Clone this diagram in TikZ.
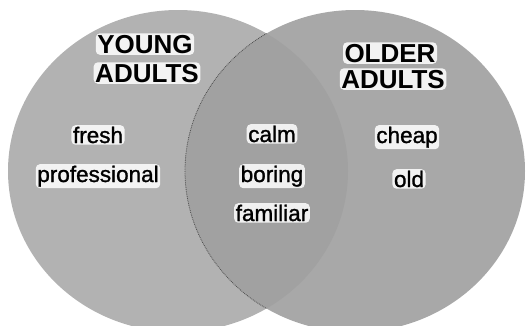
\documentclass[tikz,border=0pt]{standalone}
\usepackage{fontspec}
\setmainfont{Liberation Sans}
\newfontfamily\wordface{Liberation Sans}[FakeBold=1.2]
\usetikzlibrary{shapes.geometric}
\newcommand{\hdfont}{\fontsize{26pt}{26pt}\selectfont\bfseries}
\newcommand{\wdfont}{\wordface\fontsize{22.5pt}{22.5pt}\selectfont}

\begin{document}
\begin{tikzpicture}[x=1pt, y=-1pt,
		setdisc/.style={ellipse, minimum width=340pt, minimum height=322pt, inner sep=0pt},
		halo/.style={fill=white, fill opacity=0.85, text opacity=1, rounded corners=4pt},
		head/.style={halo, font=\hdfont, anchor=base, inner sep=1.5pt},
		word/.style={halo, font=\wdfont, anchor=base, inner sep=1.5pt}
		]
		\useasboundingbox (0,0) rectangle (528,325);
		\clip (0,0) rectangle (528,325);
		\node[setdisc, fill=black!30] (young) at (178,171) {};
		\node[setdisc, fill=black!34] (older) at (355,171) {};
		\begin{scope}
			\clip (young.center) ellipse (170pt and 161pt);
			\fill[black!37] (older.center) ellipse (170pt and 161pt);
			\draw[black!70, densely dotted, line width=0.8pt] (older.center) ellipse (170pt and 161pt);
		\end{scope}
		\node[head] (young1) at (145,53) {YOUNG};
		\node[head] (young2) at (147,82) {ADULTS};
		\node[head] (older1) at (390,62) {OLDER};
		\node[head] (older2) at (393,88) {ADULTS};
		\node[word] (fresh) at (98,143) {fresh};
		\node[word] (prof) at (98,182) {professional};
		\node[word] (calm) at (272,142) {calm};
		\node[word] (boring) at (272,182) {boring};
		\node[word] (familiar) at (272,221) {familiar};
		\node[word] (cheap) at (407,143) {cheap};
		\node[word] (old) at (409,187) {old};
	\end{tikzpicture}
\end{document}
